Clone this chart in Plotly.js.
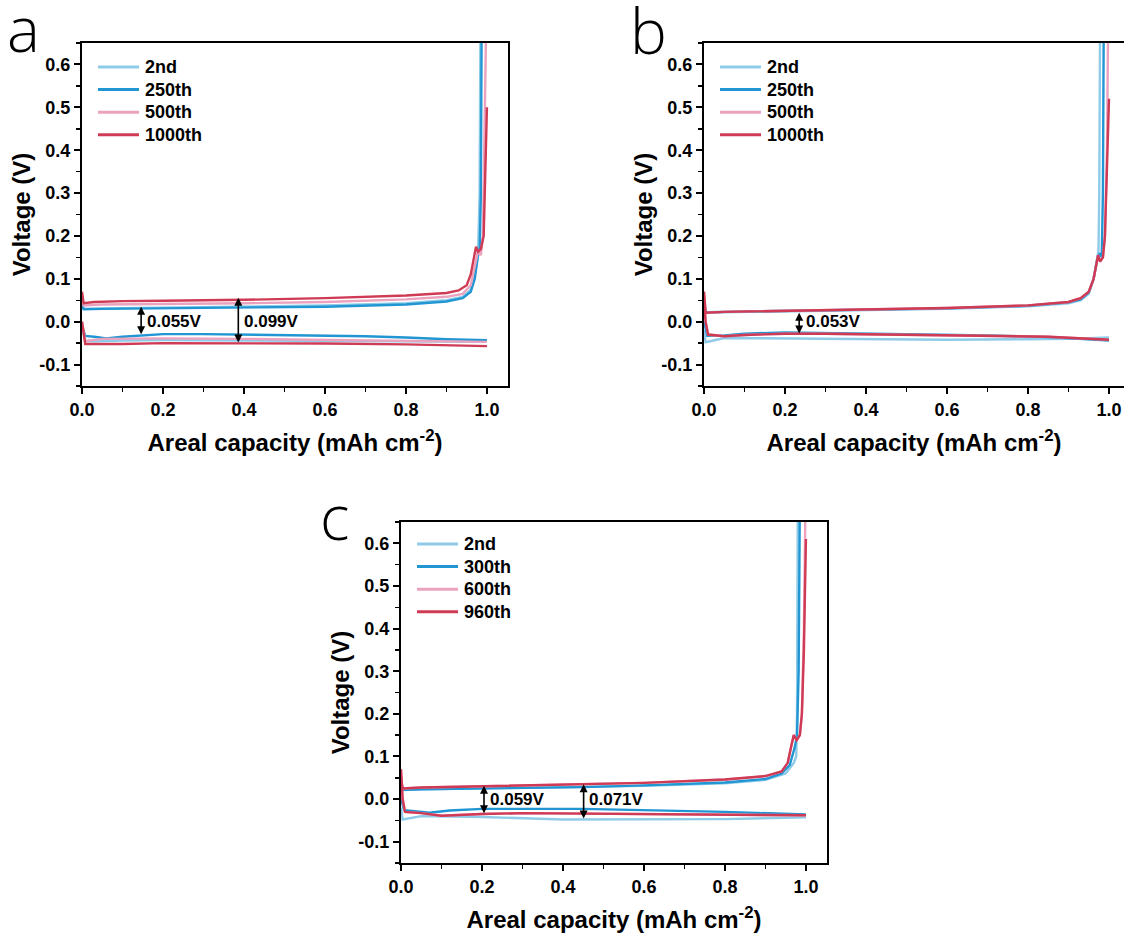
<!DOCTYPE html>
<html>
<head>
<meta charset="utf-8">
<script src="https://cdn.plot.ly/plotly-3.0.1.min.js"></script>
<style>html,body{margin:0;padding:0;background:#fff;}#chart{width:1124px;height:936px;}</style>
</head>
<body>
<div id="chart"></div>
<script>
// ---------- data (areal capacity in mAh cm-2, voltage in V); null separates plating / stripping branches ----------
// Panel a
const a_2nd_x   = [0,0.008,0.03,0.1,0.2,0.4,0.6,0.8,1.0, null, 0,0.004,0.05,0.2,0.4,0.6,0.8,0.9,0.94,0.96,0.97,0.978,0.982,0.984];
const a_2nd_v   = [-0.01,-0.045,-0.046,-0.044,-0.043,-0.044,-0.045,-0.046,-0.047, null, 0.045,0.03,0.031,0.033,0.035,0.038,0.043,0.05,0.058,0.075,0.11,0.16,0.3,0.7];
const a_250_x   = [0,0.008,0.03,0.06,0.1,0.2,0.3,0.4,0.5,0.6,0.7,0.8,0.9,1.0, null, 0,0.004,0.05,0.2,0.4,0.6,0.8,0.9,0.94,0.96,0.97,0.978,0.982,0.985,0.987];
const a_250_v   = [-0.01,-0.033,-0.035,-0.039,-0.035,-0.029,-0.029,-0.03,-0.031,-0.032,-0.034,-0.037,-0.041,-0.043, null, 0.04,0.029,0.03,0.031,0.032,0.035,0.04,0.047,0.055,0.07,0.1,0.155,0.16,0.3,0.7];
const a_500_x   = [0,0.008,0.05,0.2,0.4,0.6,0.8,1.0, null, 0,0.004,0.05,0.2,0.4,0.6,0.8,0.9,0.94,0.96,0.97,0.978,0.985,0.99,0.995,0.998];
const a_500_v   = [0.0,-0.045,-0.04,-0.039,-0.04,-0.042,-0.044,-0.047, null, 0.06,0.038,0.04,0.041,0.043,0.046,0.052,0.058,0.065,0.085,0.13,0.165,0.155,0.2,0.5,0.7];
const a_1000_x  = [0,0.008,0.05,0.1,0.2,0.4,0.6,0.8,0.9,1.0, null, 0,0.004,0.03,0.1,0.2,0.4,0.6,0.8,0.9,0.93,0.95,0.96,0.968,0.973,0.978,0.985,0.992,0.996,1.0];
const a_1000_v  = [0.0,-0.052,-0.052,-0.052,-0.05,-0.05,-0.051,-0.053,-0.055,-0.057, null, 0.07,0.043,0.046,0.048,0.049,0.051,0.055,0.061,0.067,0.073,0.085,0.11,0.15,0.175,0.163,0.17,0.2,0.35,0.5];
// Panel b
const b_2nd_x   = [0,0.004,0.05,0.2,0.4,0.6,0.8,0.9,1.0, null, 0,0.004,0.05,0.2,0.4,0.6,0.8,0.9,0.93,0.95,0.962,0.97,0.974,0.976,0.978];
const b_2nd_v   = [-0.02,-0.048,-0.038,-0.039,-0.042,-0.042,-0.041,-0.04,-0.037, null, 0.03,0.02,0.022,0.024,0.027,0.03,0.036,0.043,0.05,0.065,0.1,0.145,0.165,0.3,0.7];
const b_250_x   = [0,0.008,0.05,0.1,0.2,0.3,0.5,0.7,0.85,1.0, null, 0,0.004,0.05,0.2,0.4,0.6,0.8,0.9,0.93,0.95,0.962,0.972,0.978,0.982,0.985,0.987];
const b_250_v   = [0.0,-0.033,-0.032,-0.028,-0.025,-0.026,-0.029,-0.032,-0.036,-0.044, null, 0.05,0.022,0.023,0.025,0.027,0.031,0.037,0.045,0.052,0.068,0.1,0.15,0.16,0.15,0.3,0.7];
const b_500_x   = [0,0.004,0.01,0.05,0.1,0.2,0.3,0.5,0.7,0.85,1.0, null, 0,0.004,0.05,0.2,0.4,0.6,0.8,0.9,0.93,0.95,0.962,0.968,0.973,0.978,0.985,0.99,0.995,0.998];
const b_500_v   = [0.05,0.0,-0.03,-0.034,-0.031,-0.028,-0.028,-0.03,-0.032,-0.035,-0.042, null, 0.07,0.021,0.023,0.025,0.028,0.032,0.038,0.046,0.055,0.07,0.1,0.13,0.155,0.14,0.15,0.2,0.4,0.7];
const b_1000_x  = [0,0.004,0.01,0.05,0.1,0.2,0.3,0.5,0.7,0.85,1.0, null, 0,0.004,0.05,0.2,0.4,0.6,0.8,0.9,0.93,0.95,0.962,0.968,0.973,0.978,0.985,0.99,0.995,1.0];
const b_1000_v  = [0.05,0.0,-0.03,-0.034,-0.031,-0.028,-0.028,-0.03,-0.032,-0.035,-0.042, null, 0.07,0.021,0.023,0.025,0.028,0.032,0.038,0.046,0.055,0.07,0.1,0.13,0.155,0.14,0.15,0.2,0.35,0.52];
// Panel c
const c_2nd_x   = [0,0.004,0.05,0.2,0.4,0.6,0.8,1.0, null, 0,0.004,0.05,0.2,0.4,0.6,0.8,0.9,0.95,0.97,0.976,0.978,0.98];
const c_2nd_v   = [-0.02,-0.048,-0.04,-0.042,-0.048,-0.048,-0.047,-0.043, null, 0.03,0.022,0.023,0.025,0.027,0.031,0.037,0.045,0.06,0.085,0.1,0.2,0.7];
const c_300_x   = [0,0.008,0.04,0.07,0.12,0.2,0.45,0.6,0.8,1.0, null, 0,0.004,0.05,0.2,0.45,0.6,0.8,0.9,0.94,0.96,0.972,0.978,0.982,0.985];
const c_300_v   = [0.0,-0.026,-0.029,-0.032,-0.027,-0.023,-0.023,-0.026,-0.03,-0.036, null, 0.04,0.021,0.023,0.025,0.028,0.032,0.039,0.047,0.06,0.08,0.12,0.15,0.3,0.7];
const c_600_x   = [0,0.004,0.01,0.05,0.1,0.2,0.3,0.45,0.6,0.8,1.0, null, 0,0.004,0.05,0.2,0.45,0.6,0.8,0.9,0.94,0.955,0.965,0.97,0.977,0.985,0.99,0.995,0.999];
const c_600_v   = [0.07,0.0,-0.03,-0.033,-0.039,-0.035,-0.033,-0.034,-0.034,-0.036,-0.038, null, 0.05,0.025,0.027,0.03,0.034,0.038,0.046,0.054,0.065,0.085,0.13,0.15,0.138,0.15,0.2,0.4,0.7];
const c_960_x   = [0,0.004,0.01,0.05,0.1,0.2,0.3,0.45,0.6,0.8,1.0, null, 0,0.004,0.05,0.2,0.45,0.6,0.8,0.9,0.94,0.955,0.965,0.97,0.977,0.985,0.99,0.995,1.0];
const c_960_v   = [0.07,0.0,-0.03,-0.033,-0.039,-0.035,-0.033,-0.034,-0.034,-0.036,-0.038, null, 0.05,0.025,0.027,0.03,0.034,0.038,0.046,0.054,0.065,0.085,0.13,0.15,0.138,0.15,0.2,0.35,0.61];

const legendA = ['2nd','250th','500th','1000th'];
const legendB = ['2nd','250th','500th','1000th'];
const legendC = ['2nd','300th','600th','960th'];
const seriesColors = ['#8dcbe8','#2196d3','#eba2be','#cf3a55'];

const xTickVals = [0,0.2,0.4,0.6,0.8,1.0];
const xTickText = ['0.0','0.2','0.4','0.6','0.8','1.0'];
const yTickVals = [-0.1,0,0.1,0.2,0.3,0.4,0.5,0.6];
const yTickText = ['-0.1','0.0','0.1','0.2','0.3','0.4','0.5','0.6'];

// gap arrows: [x, yTop, yBottom, label, labelX]
const gapA = [[0.146,0.035,-0.033,'0.055V',0.155],[0.386,0.056,-0.052,'0.099V',0.395]];
const gapB = [[0.235,0.021,-0.031,'0.053V',0.247]];
const gapC = [[0.205,0.031,-0.037,'0.059V',0.214],[0.451,0.035,-0.049,'0.071V',0.46]];

// ---------- build ----------
const FONT = 'Arial, "Liberation Sans", Helvetica, sans-serif';
const W=1124, H=936;
const px = v => v/W, py = v => (H-v)/H;

const traces = [];
const shapes = [];
const annotations = [];

function addPanel(xs, vs, names, xa, ya, legX, legY){
  for (let i=0;i<xs.length;i++){
    traces.push({x:xs[i], y:vs[i], name:names[i], type:'scatter', mode:'lines',
      xaxis:xa, yaxis:ya, showlegend:false, connectgaps:false,
      line:{color:seriesColors[i], width:2.4}, hoverinfo:'skip'});
    const yy = legY + i*22.6;
    shapes.push({type:'line', xref:'paper', yref:'paper', x0:px(legX), x1:px(legX+41), y0:py(yy), y1:py(yy),
      line:{color:seriesColors[i], width:3}});
    annotations.push({text:names[i], xref:'paper', yref:'paper', x:px(legX+45), y:py(yy), xanchor:'left', yanchor:'middle',
      showarrow:false, font:{family:FONT, size:18, color:'#000', weight:'bold'}});
  }
}
addPanel([a_2nd_x,a_250_x,a_500_x,a_1000_x],[a_2nd_v,a_250_v,a_500_v,a_1000_v],legendA,'x','y',98,67);
addPanel([b_2nd_x,b_250_x,b_500_x,b_1000_x],[b_2nd_v,b_250_v,b_500_v,b_1000_v],legendB,'x2','y2',720,67);
addPanel([c_2nd_x,c_300_x,c_600_x,c_960_x],[c_2nd_v,c_300_v,c_600_v,c_960_v],legendC,'x3','y3',417,544);

function xAxis(domain, range, anchor, mirror){
  return {domain:domain, range:range, anchor:anchor, showgrid:false, zeroline:false,
    showline:true, linecolor:'#000', linewidth:2, mirror:mirror,
    ticks:'outside', ticklen:6, tickwidth:2, tickcolor:'#000',
    tickvals:xTickVals, ticktext:xTickText,
    minor:{dtick:0.1, tick0:0, ticks:'outside', ticklen:4, tickwidth:1.5, tickcolor:'#000'},
    tickfont:{family:FONT, size:18, color:'#000', weight:'bold'},
    title:{text:'Areal capacity (mAh cm<sup>-2</sup>)', font:{family:FONT, size:24, color:'#000', weight:'bold'}, standoff:16}};
}
function yAxis(domain, anchor, mirror){
  return {domain:domain, range:[-0.15,0.65], anchor:anchor, showgrid:false, zeroline:false,
    showline:true, linecolor:'#000', linewidth:2, mirror:mirror,
    ticks:'outside', ticklen:6, tickwidth:2, tickcolor:'#000',
    tickvals:yTickVals, ticktext:yTickText,
    minor:{dtick:0.05, tick0:0, ticks:'outside', ticklen:4, tickwidth:1.5, tickcolor:'#000'},
    tickfont:{family:FONT, size:18, color:'#000', weight:'bold'},
    title:{text:'Voltage (V)', font:{family:FONT, size:24, color:'#000', weight:'bold'}, standoff:2}};
}

function addGaps(list, xr, yr){
  list.forEach(g=>{
    annotations.push({x:g[0], y:g[1], ax:g[0], ay:g[2], xref:xr, yref:yr, axref:xr, ayref:yr,
      showarrow:true, arrowside:'end+start', arrowhead:2, arrowsize:1, arrowwidth:1.6, arrowcolor:'#000', text:''});
    annotations.push({x:g[4], y:0, xref:xr, yref:yr, text:g[3], showarrow:false, xanchor:'left', yanchor:'middle',
      font:{family:FONT, size:17, color:'#000', weight:'bold'}});
  });
}
addGaps(gapA,'x','y');
addGaps(gapB,'x2','y2');
addGaps(gapC,'x3','y3');

function letter(t, x, y){
  annotations.push({text:t, x:px(x), y:py(y), xref:'paper', yref:'paper', xanchor:'left', yanchor:'bottom',
    showarrow:false, font:{family:'"Open Sans", "DejaVu Sans", sans-serif', size:62, color:'#000', weight:300}});
}
letter('a', 5, 72);
letter('b', 628, 74);
letter('c', 318, 560);

const layout = {
  width:W, height:H, margin:{l:0,r:0,t:0,b:0}, paper_bgcolor:'#fff', plot_bgcolor:'#fff',
  showlegend:false,
  xaxis: xAxis([px(82),px(508)],[0,1.052],'y',true),
  yaxis: yAxis([py(386),py(43)],'x',true),
  xaxis2: xAxis([px(704),1],[0,(1124-704)/405],'y2',true),
  yaxis2: yAxis([py(386),py(43)],'x2',false),
  xaxis3: xAxis([px(401),px(827)],[0,1.052],'y3',true),
  yaxis3: yAxis([py(863),py(522)],'x3',true),
  shapes: shapes,
  annotations: annotations
};

Plotly.newPlot('chart', traces, layout, {staticPlot:true, displayModeBar:false});
</script>
</body>
</html>
